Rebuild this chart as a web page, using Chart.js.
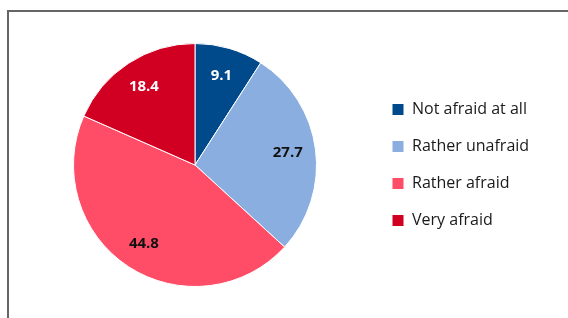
<!DOCTYPE html>
<html>
<head>
<meta charset="utf-8">
<script src="https://cdn.jsdelivr.net/npm/chart.js@4/dist/chart.umd.min.js"></script>
<style>
  html, body { margin: 0; padding: 0; background: #fff; }
  #wrap { position: relative; width: 568px; height: 318px; overflow: hidden; }
  #frame { position: absolute; left: 7px; top: 10px; width: 600px; height: 400px;
           border-top: 2px solid #666; border-left: 2px solid #666; }
  canvas { position: absolute; left: 0; top: 0; }
</style>
</head>
<body>
<div id="wrap">
  <div id="frame"></div>
  <canvas id="c" width="568" height="318"></canvas>
</div>
<script>
const categories = ["Not afraid at all", "Rather unafraid", "Rather afraid", "Very afraid"];
const values = [9.1, 27.7, 44.8, 18.4];
const sliceColors = ["#00498b", "#8aaee0", "#ff4d67", "#d10022"];
const labelColors = ["#ffffff", "#111111", "#111111", "#ffffff"];

const FONT = "'Open Sans', 'DejaVu Sans', sans-serif";
const LEG_SIZE = 16;
const LEG_PAD = 21;
const BOX = 12;

// measure widest legend label to place legend box at x≈392
const mctx = document.createElement('canvas').getContext('2d');
mctx.font = LEG_SIZE + "px " + FONT;
let maxW = 0;
categories.forEach(t => { maxW = Math.max(maxW, mctx.measureText(t).width); });
const colW = BOX + LEG_SIZE / 2 + maxW;
const legendW = LEG_PAD + colW + 10;
const legendLeft = 392 - LEG_PAD;
const padRight = Math.max(0, 568 - legendLeft - legendW);
const padLeft = 2 * 195 - legendLeft;

const valueLabels = {
  id: 'valueLabels',
  afterDatasetsDraw(chart) {
    const ctx = chart.ctx;
    const meta = chart.getDatasetMeta(0);
    ctx.save();
    ctx.font = "bold 15px " + FONT;
    ctx.textAlign = 'center';
    ctx.textBaseline = 'middle';
    meta.data.forEach((arc, i) => {
      const p = arc.getProps(['x', 'y', 'startAngle', 'endAngle', 'outerRadius'], true);
      const mid = (p.startAngle + p.endAngle) / 2;
      const r = p.outerRadius * 0.77;
      ctx.fillStyle = labelColors[i];
      ctx.fillText(values[i].toFixed(1), p.x + Math.cos(mid) * r, p.y + Math.sin(mid) * r);
    });
    ctx.restore();
  }
};

new Chart(document.getElementById('c'), {
  type: 'pie',
  data: {
    labels: categories,
    datasets: [{
      data: values,
      backgroundColor: sliceColors,
      borderColor: '#ffffff',
      borderWidth: 1
    }]
  },
  options: {
    responsive: false,
    animation: false,
    layout: { padding: { left: padLeft, right: padRight, top: 43, bottom: 31 } },
    plugins: {
      tooltip: { enabled: false },
      legend: {
        position: 'right',
        align: 'center',
        labels: {
          boxWidth: BOX,
          boxHeight: BOX,
          padding: LEG_PAD,
          color: '#1a1a1a',
          font: { size: LEG_SIZE, family: FONT }
        }
      }
    }
  },
  plugins: [valueLabels]
});
</script>
</body>
</html>
